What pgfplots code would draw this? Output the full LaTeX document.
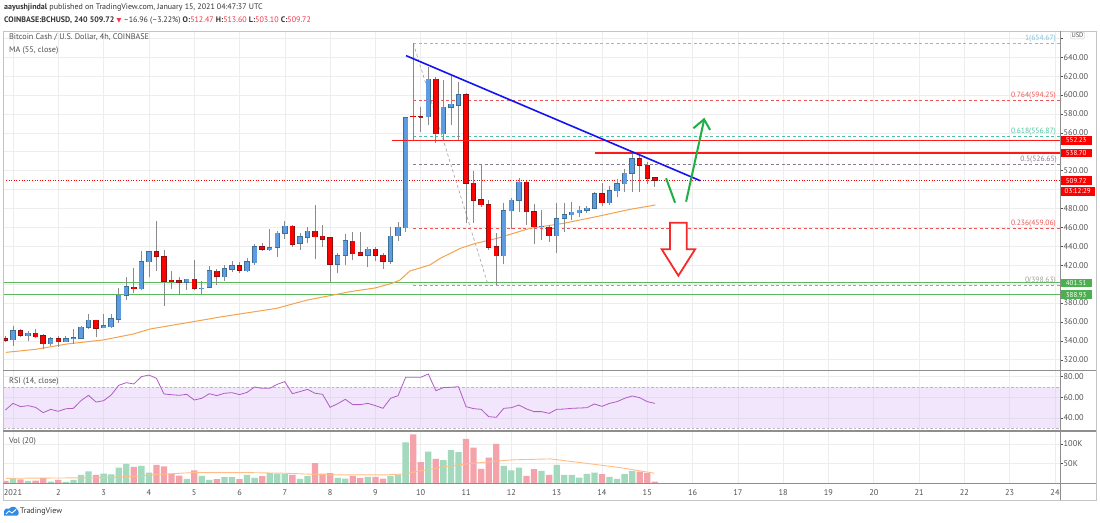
\documentclass[border=0pt]{standalone}
\usepackage{pgfplots}
\pgfplotsset{compat=1.18}
\usepackage{pgfplotstable}
\usepackage{fontspec}
\setmainfont{PT Sans}
\newfontfamily\dejavu{DejaVu Sans}

\definecolor{gridc}{HTML}{EDEDED}
\definecolor{framec}{HTML}{C4C4C4}
\definecolor{sepc}{HTML}{8E8E8E}
\definecolor{labc}{HTML}{505050}
\definecolor{upf}{HTML}{5E9CE2}
\definecolor{upb}{HTML}{3F6E93}
\definecolor{dnf}{HTML}{FF0000}
\definecolor{dnb}{HTML}{8C1010}
\definecolor{wickc}{HTML}{8A8A8A}
\definecolor{mac}{HTML}{F4A24E}
\definecolor{volg}{HTML}{A3D9BC}
\definecolor{volr}{HTML}{F5A3AA}
\definecolor{volma}{HTML}{FFBE88}
\definecolor{rsic}{HTML}{B25BC6}
\definecolor{rsib}{HTML}{D9B8F5}
\definecolor{rsid}{HTML}{BDB4C4}
\definecolor{trendc}{HTML}{1414F0}
\definecolor{lvlred}{HTML}{FF1A1A}
\definecolor{lvlgreen}{HTML}{5CB85C}
\definecolor{arrg}{HTML}{1FAF45}
\definecolor{arrr}{HTML}{F52A2A}
\definecolor{fib1}{HTML}{7CC4E6}
\definecolor{fibr}{HTML}{EE5555}
\definecolor{fibt}{HTML}{4CC3A0}
\definecolor{fibp}{HTML}{8C7A8E}
\definecolor{fibg}{HTML}{A0A0A0}
\definecolor{hdr}{HTML}{333333}
\definecolor{redt}{HTML}{F23645}
\definecolor{boxred}{HTML}{FF0000}
\definecolor{boxgreen}{HTML}{4CAF50}
\definecolor{tvblue}{HTML}{2E8BE6}

% i O H L C V(K)
\pgfplotstableread{
i O H L C V
1 341.2 355.7 334.9 350.4 12.7
3 345.4 350.0 339.5 347.9 5.9
6 337.0 344.4 334.5 341.9 4.2
8 339.1 345.4 338.4 342.3 3.4
9 342.6 352.5 336.6 343.3 8.5
10 343.0 355.7 342.3 354.3 21.2
11 354.3 368.4 352.2 361.7 30.6
13 353.9 368.0 353.2 355.7 24.6
14 355.0 368.4 353.9 363.1 22.9
15 362.7 395.5 359.2 388.1 39.9
16 388.1 407.9 383.2 397.0 49.3
18 395.2 434.7 393.8 423.8 44.2
19 423.8 435.0 407.2 434.0 27.2
24 401.9 405.8 393.8 405.1 11.1
26 395.5 403.3 388.1 395.8 19.1
27 396.6 419.2 395.5 413.9 8.9
29 407.9 420.6 403.6 416.0 15.7
30 416.0 424.8 412.4 419.2 15.7
32 414.2 427.3 412.4 423.4 21.4
33 422.7 442.1 419.9 439.6 13.8
35 436.4 458.3 435.4 438.6 25.7
36 438.9 456.2 429.0 453.7 24.0
37 454.1 466.8 447.4 461.1 23.1
39 443.1 453.7 436.1 449.8 11.3
40 449.8 460.8 443.8 455.8 18.1
44 420.9 432.5 411.4 430.1 13.8
45 430.4 453.0 419.9 445.6 12.1
48 430.4 439.6 418.4 436.8 16.4
51 424.4 460.8 421.3 450.5 19.1
52 451.2 465.7 445.6 460.1 21.4
53 459.7 577.2 455.5 575.8 104.7
56 577.2 629.4 568.4 616.7 81.0
58 559.2 616.0 552.5 587.0 58.8
59 587.0 620.2 568.4 590.2 84.4
60 589.2 614.2 552.5 600.1 79.3
66 430.1 485.5 420.9 477.7 44.2
67 477.7 491.1 457.9 488.6 33.1
68 488.6 511.9 476.6 507.7 39.9
71 460.8 478.0 446.7 461.1 31.6
73 451.2 485.5 433.3 469.2 46.9
74 469.6 485.5 454.8 473.5 21.4
75 473.5 486.9 467.8 476.0 21.4
76 475.6 483.0 471.0 478.1 14.6
77 478.1 483.0 475.6 480.2 24.0
78 480.2 497.8 479.1 495.3 27.4
80 486.2 504.2 483.7 498.9 16.4
81 498.9 510.9 492.5 505.9 11.3
82 506.3 521.4 497.5 517.2 23.1
83 517.6 538.4 497.8 532.7 31.6
}\uptab

\pgfplotstableread{
i O H L C V
0 341.9 345.4 339.1 340.5 5.9
2 350.7 352.5 344.4 345.8 10.2
4 347.9 352.5 343.0 344.4 6.8
5 345.4 347.2 331.0 337.0 13.6
7 341.9 345.1 333.8 339.1 8.5
12 361.7 362.4 344.4 353.6 21.2
17 396.6 417.0 390.3 395.2 41.7
20 434.0 467.2 414.2 429.4 46.8
21 428.7 435.8 377.2 403.3 43.4
22 404.0 413.9 394.5 402.6 24.6
23 403.3 407.2 388.1 401.9 19.6
25 405.1 425.5 393.8 395.5 33.1
28 413.5 415.7 399.0 408.6 10.6
31 419.2 423.7 411.4 414.9 10.6
34 439.6 443.1 435.4 436.8 18.1
38 461.1 462.2 438.9 442.4 21.4
41 455.8 484.0 426.2 450.2 51.3
42 450.5 462.2 439.6 447.7 24.9
43 448.8 449.5 401.9 420.9 25.7
46 445.2 455.1 425.5 432.2 18.1
47 433.3 455.1 429.4 430.4 13.8
49 436.8 438.9 424.4 430.4 16.4
50 430.4 432.5 416.3 424.1 12.1
54 577.5 654.67 552.5 576.9 125.1
55 577.2 587.8 561.3 576.9 53.7
57 616.7 618.8 549.7 559.2 62.2
61 600.1 602.6 464.3 506.6 113.3
62 506.6 519.3 465.0 489.0 91.2
63 489.0 526.4 481.2 484.1 36.8
64 484.1 489.0 436.4 439.3 65.7
65 439.3 454.4 398.63 430.1 100.5
69 507.7 509.4 462.2 476.6 19.1
70 476.6 484.4 442.4 460.8 35.9
72 460.1 462.5 444.9 451.2 21.4
79 495.3 507.3 482.6 486.2 23.1
84 532.4 536.3 497.8 525.7 29.9
85 525.7 529.6 505.9 512.3 26.5
86 512.47 513.6 503.1 509.72 4.3
}\dntab

\pgfplotstableread{
i r
0 47.7
1 54.1
2 50.9
3 51.9
4 50.2
5 45.1
6 48.3
7 46.4
8 48.9
9 49.3
10 56.7
11 61.9
12 55.4
13 56.7
14 62.2
15 71.6
16 74.2
17 72.9
18 80.0
19 81.6
20 78.4
21 63.2
22 62.5
23 61.9
24 62.9
25 57.4
26 59.0
27 63.5
28 61.6
29 63.9
30 64.5
31 62.6
32 64.8
33 70.0
34 68.7
35 68.7
36 72.6
37 75.2
38 63.5
39 65.5
40 67.7
41 63.9
42 62.9
43 50.3
44 53.8
45 58.0
46 52.9
47 52.9
48 54.1
49 51.9
50 49.3
51 59.0
52 61.6
53 79.4
54 79.4
55 79.4
56 82.6
57 66.4
58 69.4
59 69.7
60 70.3
61 50.9
62 49.0
63 48.3
64 41.2
65 40.6
66 49.3
67 49.9
68 52.5
69 48.7
70 46.1
71 46.1
72 44.4
73 48.3
74 48.6
75 49.3
76 49.6
77 49.9
78 53.5
79 51.2
80 54.1
81 55.8
82 59.0
83 61.3
84 59.6
85 55.8
86 54.1
}\rsitab

\pgfplotsset{
  tvaxis/.style={scale only axis, anchor=south west, width=1056.7pt,
    xmin=0.786, xmax=24.11,
    axis line style={draw=none},
    xtick={1,...,24}, grid=major,
    major grid style={draw=gridc, line width=0.6pt},
    ytick pos=right, yticklabel pos=right,
    tick align=outside, major tick length=2.5pt,
    xtick style={draw=none}, ytick style={draw=labc, line width=0.4pt},
    yticklabel style={font=\fontsize{8.3}{9}\selectfont, text=labc, inner sep=1pt, anchor=west},
  },
}

\begin{document}
\begin{tikzpicture}[x=1pt,y=1pt]
\fill[white] (0,0) rectangle (1100,522);

% ---------------- main price panel ----------------
\begin{axis}[tvaxis, at={(3.3pt,151.3pt)}, height=339.7pt,
  ymin=308.4, ymax=667.8,
  ytick={320,340,360,380,400,420,440,460,480,500,520,540,560,580,600,620,640,660},
  yticklabels={320.00,340.00,360.00,380.00,{},420.00,440.00,460.00,480.00,{},520.00,{},560.00,580.00,600.00,620.00,640.00,{}},
  xticklabels={}]
% current price dotted
\addplot[red, dotted, line width=0.6pt, forget plot] coordinates {(0.786,509.72) (24.11,509.72)};
% fib levels
\addplot[fib1, dash pattern=on 3pt off 2.5pt, line width=0.6pt] coordinates {(9.837,654.67) (24.11,654.67)};
\addplot[fibr, dash pattern=on 3pt off 2.5pt, line width=0.6pt] coordinates {(9.837,594.25) (24.11,594.25)};
\addplot[fibt, dash pattern=on 3pt off 2.5pt, line width=0.6pt] coordinates {(9.837,556.87) (24.11,556.87)};
\addplot[fibp, dash pattern=on 3pt off 2.5pt, line width=0.6pt] coordinates {(9.837,526.65) (24.11,526.65)};
\addplot[fibr, dash pattern=on 3pt off 2.5pt, line width=0.6pt] coordinates {(9.837,459.06) (24.11,459.06)};
\addplot[fibg, dash pattern=on 3pt off 2.5pt, line width=0.6pt] coordinates {(9.837,398.63) (24.11,398.63)};
\addplot[fibg, dash pattern=on 3pt off 2.5pt, line width=0.6pt] coordinates {(9.837,654.67) (11.49,398.63)};
% support lines
\addplot[lvlgreen, line width=1.2pt] coordinates {(0.786,401.51) (24.11,401.51)};
\addplot[lvlgreen, line width=1.2pt] coordinates {(0.786,388.93) (24.11,388.93)};
% MA 55
\addplot[mac, line width=1pt] coordinates {
(0.845,327.8) (1.5,331) (2.185,336.6) (3.0,341) (3.656,347.2) (4.024,352.5)
(5.128,361.5) (5.57,365.2) (6.82,374.4) (7.48,383) (8.07,388.5) (8.44,392)
(9.0,396) (9.36,400.8) (9.54,404.3) (9.76,413.9) (10.2,420.2) (10.43,427.3)
(10.87,437.8) (11.2,443) (11.68,448.4) (12.41,459) (13.15,464.3) (13.88,471.4)
(14.62,479.1) (15.18,483.7)};
% wicks
\addplot[draw=none, error bars/.cd, y dir=plus, y explicit, error mark=none,
  error bar style={line width=0.8pt, draw=wickc}]
  table[x expr={0.8333+\thisrow{i}/6}, y=L, y error expr={\thisrow{H}-\thisrow{L}}] {\uptab};
\addplot[draw=none, error bars/.cd, y dir=plus, y explicit, error mark=none,
  error bar style={line width=0.8pt, draw=wickc}]
  table[x expr={0.8333+\thisrow{i}/6}, y=L, y error expr={\thisrow{H}-\thisrow{L}}] {\dntab};
% bodies: border then fill
\addplot[draw=none, error bars/.cd, y dir=plus, y explicit, error mark=none,
  error bar style={line width=5.4pt, draw=upb}]
  table[x expr={0.8333+\thisrow{i}/6}, y expr={min(\thisrow{O},\thisrow{C})-0.6}, y error expr={abs(\thisrow{C}-\thisrow{O})+1.2}] {\uptab};
\addplot[draw=none, error bars/.cd, y dir=plus, y explicit, error mark=none,
  error bar style={line width=3.8pt, draw=upf}]
  table[x expr={0.8333+\thisrow{i}/6}, y expr={min(\thisrow{O},\thisrow{C})}, y error expr={abs(\thisrow{C}-\thisrow{O})}] {\uptab};
\addplot[draw=none, error bars/.cd, y dir=plus, y explicit, error mark=none,
  error bar style={line width=5.4pt, draw=dnb}]
  table[x expr={0.8333+\thisrow{i}/6}, y expr={min(\thisrow{O},\thisrow{C})-0.6}, y error expr={abs(\thisrow{C}-\thisrow{O})+1.2}] {\dntab};
\addplot[draw=none, error bars/.cd, y dir=plus, y explicit, error mark=none,
  error bar style={line width=3.8pt, draw=dnf}]
  table[x expr={0.8333+\thisrow{i}/6}, y expr={min(\thisrow{O},\thisrow{C})}, y error expr={abs(\thisrow{C}-\thisrow{O})}] {\dntab};
% resistance lines
\addplot[lvlred, line width=1.3pt] coordinates {(9.36,552.23) (24.11,552.23)};
\addplot[lvlred, line width=1.3pt] coordinates {(13.85,538.70) (24.11,538.70)};
% trend line
\addplot[trendc, line width=1.6pt] coordinates {(9.676,641.7) (16.17,509.4)};
% green arrows
\addplot[arrg, line width=2pt] coordinates {(15.415,512.0) (15.614,486.1)};
\addplot[arrg, line width=2pt] coordinates {(15.857,487.2) (16.254,573.7)};
\addplot[arrg, line width=2pt, line join=miter] coordinates {(16.018,564.9) (16.254,574.4) (16.386,563.1)};
% red hollow arrow
\addplot[arrr, fill=white, line width=1.8pt, line join=miter] coordinates {
(15.503,465.0) (15.872,465.0) (15.872,436.8) (16.055,436.8) (15.687,408.9) (15.32,436.8) (15.503,436.8)} -- cycle;
\end{axis}

% ---------------- RSI panel ----------------
\begin{axis}[tvaxis, at={(3.3pt,91pt)}, height=60.3pt,
  ymin=27.3, ymax=85.8, ytick={40,60,80}, yticklabels={40.00,60.00,80.00}, xticklabels={}]
\addplot[draw=none, fill=rsib, fill opacity=0.35] coordinates {(0.786,30) (24.11,30) (24.11,70) (0.786,70)} -- cycle;
\addplot[rsid, dash pattern=on 2.5pt off 2pt, line width=0.6pt] coordinates {(0.786,70) (24.11,70)};
\addplot[rsid, dash pattern=on 2.5pt off 2pt, line width=0.6pt] coordinates {(0.786,30) (24.11,30)};
\addplot[rsic, line width=0.8pt] table[x expr={0.8333+\thisrow{i}/6}, y=r] {\rsitab};
\end{axis}

% ---------------- Volume panel ----------------
\begin{axis}[tvaxis, at={(3.3pt,38.7pt)}, height=52.3pt,
  ymin=0, ymax=133.4, ytick={50,100}, yticklabels={50K,100K},
  xticklabels={2021,2,3,4,5,6,7,8,9,10,11,12,13,14,15,16,17,18,19,20,21,22,23,24},
  xticklabel style={font=\fontsize{8.3}{9}\selectfont, text=labc, yshift=-0.5pt}]
\addplot[ybar, bar width=6.3pt, bar shift=0pt, fill=volg, draw=none]
  table[x expr={0.8333+\thisrow{i}/6}, y=V] {\uptab};
\addplot[ybar, bar width=6.3pt, bar shift=0pt, fill=volr, draw=none]
  table[x expr={0.8333+\thisrow{i}/6}, y=V] {\dntab};
\addplot[volma, line width=0.9pt] coordinates {
(0.85,12.7) (2.0,13.5) (3.03,14.4) (3.5,17) (4.05,21.4) (4.97,27.4) (6.13,27.4)
(6.99,25.7) (8.0,21.4) (9.23,21.4) (9.62,24.0) (10.0,31.6) (10.55,42.7) (11.02,49.5)
(11.56,55.4) (12.0,59.7) (12.86,62.2) (13.63,51.3) (14.4,40) (15.16,25.7)};
\end{axis}

% ---------------- frame and separators ----------------
\draw[framec, line width=0.8pt] (3.3,22) rectangle (1096,491);
\draw[sepc, line width=0.8pt] (1060,22) -- (1060,491);
\draw[sepc, line width=1.2pt] (3.3,151.3) -- (1096,151.3);
\draw[sepc, line width=1.2pt] (3.3,91) -- (1096,91);
\draw[sepc, line width=0.9pt] (3.3,38.7) -- (1096,38.7);

% ---------------- texts (pixel coordinates, y down) ----------------
\begin{scope}[shift={(0,522)}, yscale=-1]
\node[anchor=west, inner sep=0pt, text=hdr, font=\fontsize{8}{9}\selectfont] at (4,7.5)
  {\textbf{aayushjindal} published on TradingView.com, January 15, 2021 04:47:37 UTC};
\node[anchor=west, inner sep=0pt, text=hdr, font=\fontsize{8}{9}\selectfont] at (4,20.5)
  {\textbf{COINBASE:BCHUSD, 240} \textbf{509.72} {\color{redt}\dejavu\fontsize{6.3}{7}\selectfont ▼} –16.96 (–3.22\%) \textbf{O:}{\color{redt}512.47} \textbf{H:}{\color{redt}513.60} \textbf{L:}{\color{redt}503.10} \textbf{C:}{\color{redt}509.72}};
\node[anchor=west, inner sep=0pt, text=labc, font=\fontsize{8.2}{9}\selectfont] at (9,37.5) {Bitcoin Cash / U.S. Dollar, 4h, COINBASE};
\node[anchor=west, inner sep=0pt, text=labc, font=\fontsize{8.2}{9}\selectfont] at (9,50) {MA (55, close)};
\node[anchor=west, inner sep=0pt, text=labc, font=\fontsize{8.2}{9}\selectfont] at (9,381) {RSI (14, close)};
\node[anchor=west, inner sep=0pt, text=labc, font=\fontsize{8.2}{9}\selectfont] at (9,441.5) {Vol (20)};
% fib labels
\node[anchor=east, inner sep=0pt, text=fib1, font=\fontsize{7.6}{8}\selectfont] at (1056,39) {1(654.67)};
\node[anchor=east, inner sep=0pt, text=fibr, font=\fontsize{7.6}{8}\selectfont] at (1056,95.7) {0.764(594.25)};
\node[anchor=east, inner sep=0pt, text=fibt, font=\fontsize{7.6}{8}\selectfont] at (1056,131.5) {0.618(556.87)};
\node[anchor=east, inner sep=0pt, text=fibp, font=\fontsize{7.6}{8}\selectfont] at (1057,160) {0.5(526.65)};
\node[anchor=east, inner sep=0pt, text=fibr, font=\fontsize{7.6}{8}\selectfont] at (1056,224) {0.236(459.06)};
\node[anchor=east, inner sep=0pt, text=fibg, font=\fontsize{7.6}{8}\selectfont] at (1056,281) {0(398.63)};
% price boxes
\node[anchor=west, fill=boxred, text=white, inner sep=0pt, minimum width=31pt, minimum height=8.6pt, font=\fontsize{7}{8}\selectfont] at (1060.5,140.5) {552.23};
\node[anchor=west, fill=boxred, text=white, inner sep=0pt, minimum width=31pt, minimum height=8.6pt, font=\fontsize{7}{8}\selectfont] at (1060.5,153.2) {538.70};
\node[anchor=west, fill=boxred, text=white, inner sep=0pt, minimum width=31pt, minimum height=8.6pt, font=\fontsize{7}{8}\selectfont] at (1060.5,180.8) {509.72};
\node[anchor=west, fill=boxred, text=white, inner sep=0pt, minimum width=34pt, minimum height=8.6pt, font=\fontsize{7}{8}\selectfont] at (1060.5,191.5) {03:12:29};
\node[anchor=west, fill=boxgreen, text=white, inner sep=0pt, minimum width=31pt, minimum height=8.6pt, font=\fontsize{7}{8}\selectfont] at (1060.5,283.2) {401.51};
\node[anchor=west, fill=boxgreen, text=white, inner sep=0pt, minimum width=31pt, minimum height=8.6pt, font=\fontsize{7}{8}\selectfont] at (1060.5,294.8) {388.93};
% USD box
\node[fill=white, draw=framec, line width=0.4pt, rounded corners=1pt, inner sep=1pt, text=labc, font=\fontsize{6.5}{7}\selectfont] at (1077.5,35.5) {USD};
% TradingView logo
\fill[tvblue] (4,515.5) -- (4,512) .. controls (4,509) and (7,507.5) .. (9.5,508.5) .. controls (11,506) and (16,506) .. (17,509.5) .. controls (19,510) and (19.5,515.5) .. (17,515.5) -- cycle;
\draw[white, line width=0.9pt] (6,514) -- (9,511) -- (12,513) -- (16,509.5);
\node[anchor=west, inner sep=0pt, text=hdr, font=\fontsize{8}{9}\selectfont] at (20,511.5) {TradingView};
\end{scope}

\pgfresetboundingbox
\path[use as bounding box] (0,0) rectangle (1100,522);
\end{tikzpicture}
\end{document}
